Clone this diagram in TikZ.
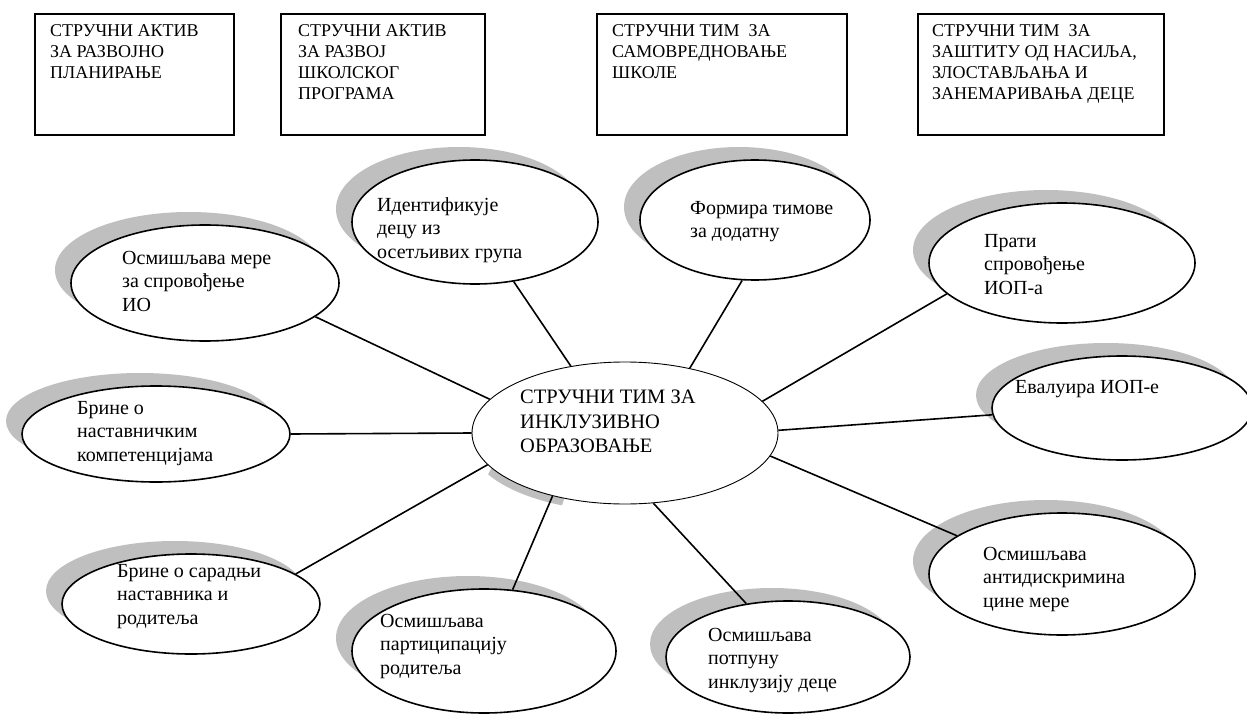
\documentclass[tikz,border=0pt]{standalone}
\usepackage{fontspec}
\setmainfont{Liberation Serif}
\usetikzlibrary{shapes.geometric}
\tikzset{
  bubble/.style={ellipse, draw=black, line width=1.6pt, fill=white, inner sep=0pt},
  center bubble/.style={ellipse, draw=black, line width=0.9pt, fill=white, inner sep=0pt},
  shadowfill/.style={fill=black!25},
  boxst/.style={rectangle, draw=black, line width=1.6pt, inner sep=0pt, anchor=north west},
  btxt/.style={anchor=north west, inner sep=0pt, align=left, font=\fontsize{18}{21}\selectfont},
  etxt/.style={anchor=north west, inner sep=0pt, align=left, font=\fontsize{20}{23.5}\selectfont},
  ctxt/.style={anchor=north west, inner sep=0pt, align=left, font=\fontsize{20.5}{24.5}\selectfont},
  conn/.style={draw=black, line width=1.6pt}
}
\newcommand\bub[5]{%
  \fill[shadowfill] (#2-16,#3-13) ellipse [x radius=#4pt, y radius=#5pt];
  \node[bubble, minimum width=2*#4pt, minimum height=2*#5pt] (#1) at (#2,#3) {};}
\begin{document}
\begin{tikzpicture}[x=1pt,y=-1pt]
\useasboundingbox (0,0) rectangle (1247,714);
\fill[white] (0,0) rectangle (1247,714);
% top boxes
\node[boxst, minimum width=199pt, minimum height=121pt] (b1) at (34,13) {};
\node[boxst, minimum width=204pt, minimum height=121pt] (b2) at (280,13) {};
\node[boxst, minimum width=250pt, minimum height=121pt] (b3) at (596,13) {};
\node[boxst, minimum width=246pt, minimum height=121pt] (b4) at (917,13) {};
\node[btxt] (tb1) at (50,24) {СТРУЧНИ АКТИВ\\ЗА РАЗВОЈНО\\ПЛАНИРАЊЕ};
\node[btxt] (tb2) at (298,24) {СТРУЧНИ АКТИВ\\ЗА РАЗВОЈ\\ШКОЛСКОГ\\ПРОГРАМА};
\node[btxt] (tb3) at (612,24) {СТРУЧНИ ТИМ~ ЗА\\САМОВРЕДНОВАЊЕ\\ШКОЛЕ};
\node[btxt] (tb4) at (932,24) {СТРУЧНИ ТИМ~ ЗА\\ЗАШТИТУ ОД НАСИЉА,\\ЗЛОСТАВЉАЊА И\\ЗАНЕМАРИВАЊА ДЕЦЕ};
% bubbles
\bub{e1}{205}{283}{134}{58}
\bub{e2}{475}{222}{123}{62}
\bub{e3}{755}{220}{115}{60}
\bub{e4}{1062}{263}{133}{60}
\bub{e5}{1122}{408}{130}{52}
\bub{e6}{1062}{574}{133}{61}
\bub{e7}{788}{657}{122}{56}
\bub{e8}{484}{651}{132}{62}
\bub{e9}{191}{604}{129}{50}
\bub{e10}{156}{434}{134}{48}
% small grey crescent under the centre ellipse
\begin{scope}
  \clip (525,490) circle [radius=40pt];
  \fill[shadowfill] (622,440) ellipse [x radius=153pt, y radius=71pt];
\end{scope}
\node[center bubble, minimum width=306pt, minimum height=142pt] (c) at (625,433) {};
% texts
\node[etxt] (t1) at (122,251) {Осмишљава мере\\за спровођење\\ИО};
\node[etxt] (t2) at (377,197) {Идентификује\\децу из\\осетљивих група};
\node[etxt] (t3) at (690,201) {Формира тимове\\за додатну};
\node[etxt] (t4) at (984,234) {Прати\\спровођење\\ИОП-а};
\node[etxt] (t5) at (1015,380) {Евалуира ИОП-е};
\node[etxt] (t6) at (983,547) {Осмишљава\\антидискримина\\цине мере};
\node[etxt] (t7) at (708,628) {Осмишљава\\потпуну\\инклузију деце};
\node[etxt] (t8) at (380,614) {Осмишљава\\партиципацију\\родитеља};
\node[etxt] (t9) at (117,564) {Брине о сарадњи\\наставника и\\родитеља};
\node[etxt] (t10) at (77,401) {Брине о\\наставничким\\компетенцијама};
\node[ctxt] (tc) at (520,390) {СТРУЧНИ ТИМ ЗА\\ИНКЛУЗИВНО\\ОБРАЗОВАЊЕ};
% connectors
\draw[conn] (e1.-17.5) -- (c.166.9);
\draw[conn] (e2.-57.2) -- (c.129.6);
\draw[conn] (e3.-102.4) -- (c.45.9);
\draw[conn] (e4.-165) -- (c.13.1);
\draw[conn] (e5.-177) -- (c.1);
\draw[conn] (e6.160) -- (c.-9.8);
\draw[conn] (e7.128.5) -- (c.-68.6);
\draw[conn] (e8.65.3) -- (c.-139.3);
\draw[conn] (e9.16) -- (c.-167.9);
\draw[conn] (e10.0) -- (c.180);
\end{tikzpicture}
\end{document}
